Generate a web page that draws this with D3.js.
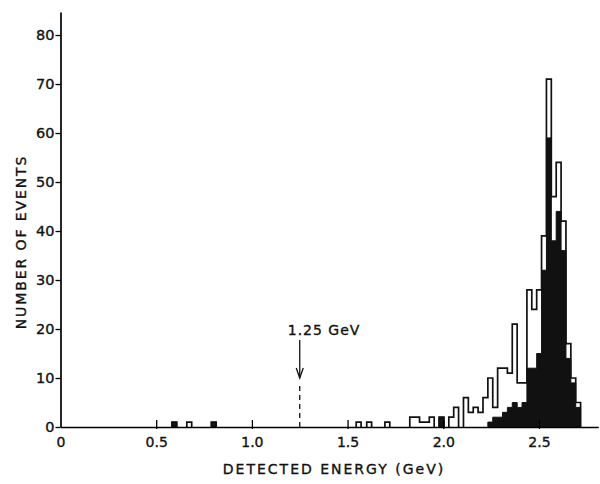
<!DOCTYPE html>
<html>
<head>
<meta charset="utf-8">
<script src="https://cdn.jsdelivr.net/npm/d3@7/dist/d3.min.js"></script>
<style>
  body { margin: 0; background: #fff; }
  svg text { font-family: "DejaVu Sans", "Liberation Sans", sans-serif; fill: #111; stroke: #111; stroke-width: 0.35; }
</style>
</head>
<body>
<svg id="chart" width="600" height="484"></svg>
<script>
const binWidth = 0.0255;

// scattered low-energy bins: lower edge (GeV) and counts
const lowBinLow = [0.582, 0.66, 0.788, 1.545, 1.6, 1.695];
const lowAll = [1, 1, 1, 1, 1, 1];
const lowSolid = [1, 0, 1, 0, 0, 0];

// main block of contiguous bins starting at mainStart
const mainStart = 1.825;
const mainAll = [
  2, 2, 1, 1, 2, 0, 2, 0, 2, 4, 0,
  6, 3, 4, 3, 6, 10, 4, 12, 12, 11, 21,
  9, 9, 28, 24, 28, 39, 71, 47, 54, 42, 17,
  10, 5
];
const mainSolid = [
  0, 0, 0, 0, 0, 0, 2, 0, 0, 0, 0,
  0, 0, 0, 0, 0, 1, 2, 2, 3, 4, 5,
  4, 5, 12, 12, 15, 32, 59, 38, 44, 36, 14,
  9, 4
];

const xTicks = [0, 0.5, 1.0, 1.5, 2.0, 2.5];
const xTickLabels = ["0", "0.5", "1.0", "1.5", "2.0", "2.5"];
const yTicks = [0, 10, 20, 30, 40, 50, 60, 70, 80];
const cutEnergy = 1.25;
const cutLabel = "1.25 GeV";

const svg = d3.select("#chart");
svg.append("rect").attr("width", 600).attr("height", 484).attr("fill", "#fff");

const x = d3.scaleLinear().domain([0, 2.81]).range([60.5, 598.3]);
const y = d3.scaleLinear().domain([0, 84.7]).range([427, 12]);

// build bin list {lo, all, solid}
const bins = [];
lowBinLow.forEach((lo, i) => bins.push({ lo: lo, all: lowAll[i], solid: lowSolid[i] }));
mainAll.forEach((v, i) => bins.push({ lo: mainStart + i * binWidth, all: v, solid: mainSolid[i] }));

// group non-empty neighbouring bins into runs, each run drawn as one step outline
function runs(key) {
  const out = [];
  let cur = null;
  bins.forEach(b => {
    const v = b[key];
    if (!v) { cur = null; return; }
    if (cur && Math.abs(b.lo - cur[cur.length - 1].lo - binWidth) < 1e-6) {
      cur.push({ lo: b.lo, v: v });
    } else {
      cur = [{ lo: b.lo, v: v }];
      out.push(cur);
    }
  });
  return out;
}

function stepPoints(run) {
  const pts = [[run[0].lo, 0]];
  run.forEach(b => {
    pts.push([b.lo, b.v]);
    pts.push([b.lo + binWidth, b.v]);
  });
  pts.push([run[run.length - 1].lo + binWidth, 0]);
  return pts;
}

const line = d3.line().x(d => x(d[0])).y(d => y(d[1]));

// open histogram: all events
svg.append("g").selectAll("path")
  .data(runs("all"))
  .enter().append("path")
  .attr("d", d => line(stepPoints(d)))
  .attr("fill", "#fff")
  .attr("stroke", "#111")
  .attr("stroke-width", 1.7);

// solid histogram
svg.append("g").selectAll("path")
  .data(runs("solid"))
  .enter().append("path")
  .attr("d", d => line(stepPoints(d)))
  .attr("fill", "#111")
  .attr("stroke", "#111")
  .attr("stroke-width", 1);

// x axis
const xAxis = svg.append("g")
  .attr("transform", "translate(0," + y(0) + ")")
  .call(d3.axisBottom(x)
    .tickValues(xTicks)
    .tickFormat((d, i) => xTickLabels[i])
    .tickSizeInner(-7)
    .tickSizeOuter(0)
    .tickPadding(10));
xAxis.selectAll("line").attr("y1", 2).attr("stroke-width", 1.3);
xAxis.select(".domain").attr("stroke-width", 1.7);
xAxis.selectAll("text").attr("font-size", 14).attr("fill", "#111");
xAxis.selectAll(".tick").filter(d => d === 0).select("line").remove();

// y axis
const yAxis = svg.append("g")
  .attr("transform", "translate(" + x(0) + ",0)")
  .call(d3.axisLeft(y)
    .tickValues(yTicks)
    .tickSizeInner(5)
    .tickSizeOuter(0)
    .tickPadding(1));
yAxis.selectAll("line").attr("stroke-width", 1.3);
yAxis.select(".domain").attr("stroke-width", 1.7);
yAxis.selectAll("text").attr("font-size", 14.5).attr("fill", "#111");

// 1.25 GeV marker
const cx = x(cutEnergy);
svg.append("line")
  .attr("x1", cx).attr("x2", cx)
  .attr("y1", y(0)).attr("y2", 382)
  .attr("stroke", "#111").attr("stroke-width", 1.3)
  .attr("stroke-dasharray", "5,4");
svg.append("line")
  .attr("x1", cx).attr("x2", cx)
  .attr("y1", 340).attr("y2", 378)
  .attr("stroke", "#111").attr("stroke-width", 1.3);
svg.append("path")
  .attr("d", "M" + (cx - 3.5) + ",368L" + cx + ",378L" + (cx + 3.5) + ",368")
  .attr("fill", "none").attr("stroke", "#111").attr("stroke-width", 1.3);
svg.append("text")
  .attr("x", cx - 12).attr("y", 335)
  .attr("font-size", 14)
  .attr("letter-spacing", 1)
  .text(cutLabel);

// axis titles
svg.append("text")
  .attr("transform", "translate(26,242)rotate(-90)")
  .attr("text-anchor", "middle")
  .attr("font-size", 14)
  .attr("letter-spacing", 1.9)
  .text("NUMBER OF EVENTS");

svg.append("text")
  .attr("x", 334).attr("y", 474)
  .attr("text-anchor", "middle")
  .attr("font-size", 14)
  .attr("letter-spacing", 2)
  .text("DETECTED ENERGY (GeV)");
</script>
</body>
</html>
